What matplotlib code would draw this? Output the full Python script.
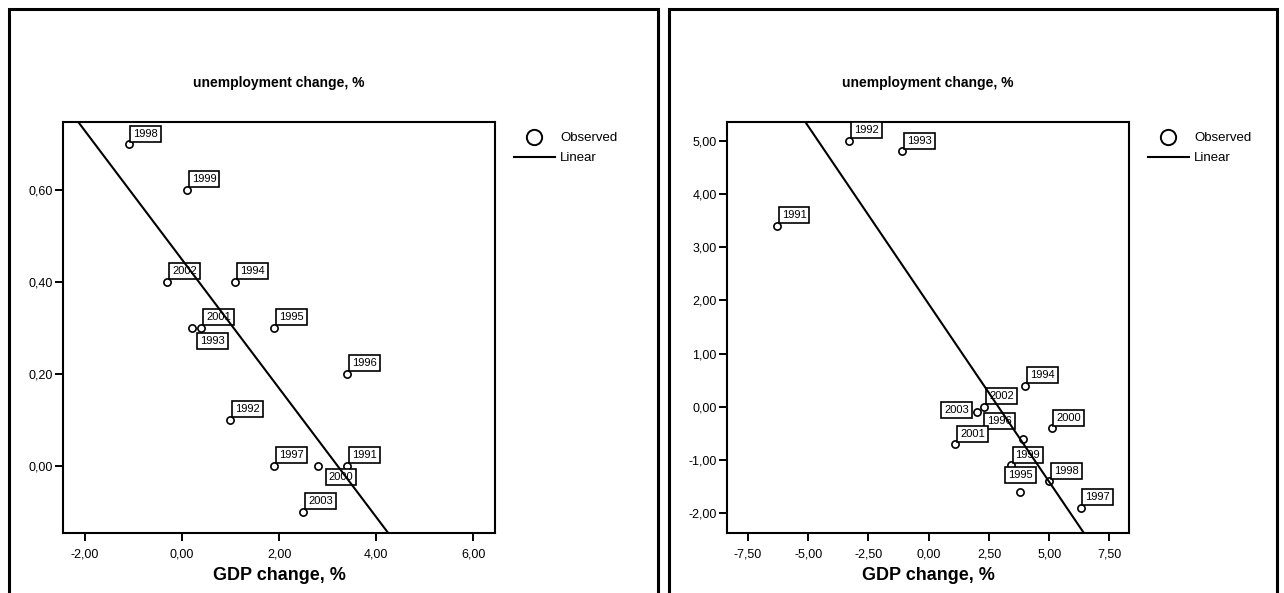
import numpy as np
import matplotlib
matplotlib.use("Agg")
import matplotlib.pyplot as plt
from matplotlib.lines import Line2D
from matplotlib.patches import Rectangle
from matplotlib.ticker import FuncFormatter

plt.rcParams["font.family"] = ["Liberation Sans", "DejaVu Sans"]

years = [1991, 1992, 1993, 1994, 1995, 1996, 1997, 1998, 1999, 2000, 2001, 2002, 2003]

# left chart
gdp_a = [3.4, 1.0, 0.2, 1.1, 1.9, 3.4, 1.9, -1.1, 0.1, 2.8, 0.4, -0.3, 2.5]
unemp_a = [0.0, 0.1, 0.3, 0.4, 0.3, 0.2, 0.0, 0.7, 0.6, 0.0, 0.3, 0.4, -0.1]
fit_a = (0.449, -0.140)  # intercept, slope of the "Linear" line as drawn

# right chart
gdp_b = [-6.3, -3.3, -1.1, 4.0, 3.8, 3.9, 6.3, 5.0, 3.4, 5.1, 1.1, 2.3, 2.0]
unemp_b = [3.4, 5.0, 4.8, 0.4, -1.6, -0.6, -1.9, -1.4, -1.1, -0.4, -0.7, 0.0, -0.1]
fit_b = (1.93, -0.668)

xticks_a = [-2, 0, 2, 4, 6]
yticks_a = [0.0, 0.2, 0.4, 0.6]
xticks_b = [-7.5, -5, -2.5, 0, 2.5, 5, 7.5]
yticks_b = [-2, -1, 0, 1, 2, 3, 4, 5]

title = "unemployment change, %"
xlabel = "GDP change, %"

# label boxes that are not at the default top-right spot
labels_a = {1993: (6.3, -5.6, "left", "top"), 2000: (7.8, -4.2, "left", "top")}
labels_b = {2003: (-5.6, 1.6, "right", "center"),
            1996: (-7.8, 9.2, "right", "bottom"),
            1995: (0, 8.3, "center", "bottom")}

W, H = 1284, 593
fig = plt.figure(figsize=(W / 100, H / 100), dpi=100)

comma = FuncFormatter(lambda v, p: f"{v:.2f}".replace(".", ","))


def panel(rect, gdp, unemp, fit, xlim, ylim, xticks, yticks, special):
    ax = fig.add_axes([rect[0] / W, 1 - rect[3] / H, (rect[2] - rect[0]) / W, (rect[3] - rect[1]) / H])
    ax.plot(gdp, unemp, "o", ms=5.2, mfc="white", mec="black", mew=1.2, zorder=3)
    for yr, x, y in zip(years, gdp, unemp):
        dx, dy, ha, va = special.get(yr, (3.5, 4, "left", "bottom"))
        ax.annotate(str(yr), (x, y), xytext=(dx, dy), textcoords="offset points",
                    ha=ha, va=va, fontsize=8, zorder=4,
                    bbox=dict(boxstyle="square,pad=0.27", fc="white", ec="black", lw=1.2))
    xs = np.array(xlim)
    ax.plot(xs, fit[0] + fit[1] * xs, color="black", lw=1.5, zorder=5)
    ax.set_xlim(xlim)
    ax.set_ylim(ylim)
    ax.set_xticks(xticks)
    ax.set_yticks(yticks)
    ax.xaxis.set_major_formatter(comma)
    ax.yaxis.set_major_formatter(comma)
    ax.tick_params(direction="out", length=6, width=1.4, labelsize=9)
    ax.tick_params(axis="x", pad=5)
    ax.tick_params(axis="y", pad=1.5)
    for s in ax.spines.values():
        s.set_linewidth(1.5)
    ax.set_xlabel(xlabel, fontsize=13, fontweight="bold", labelpad=5)
    fig.text((rect[0] + rect[2]) / 2 / W, 1 - 83 / H, title, ha="center", va="center",
             fontsize=10, fontweight="bold")
    handles = [Line2D([], [], marker="o", ls="none", ms=11, mfc="white", mec="black", mew=1.4),
               Line2D([], [], color="black", lw=1.5)]
    ax.legend(handles, ["Observed", "Linear"], loc="upper left",
              bbox_to_anchor=((rect[2] + 19) / W, 1 - 132 / H), bbox_transform=fig.transFigure,
              frameon=False, fontsize=9.5, handlelength=3.1, handletextpad=0.4,
              labelspacing=0.6, borderpad=0, borderaxespad=0)
    return ax


panel((63, 122, 495, 533), gdp_a, unemp_a, fit_a, (-2.45, 6.45), (-0.146, 0.748),
      xticks_a, yticks_a, labels_a)
panel((727, 122, 1129, 533), gdp_b, unemp_b, fit_b, (-8.37, 8.31), (-2.37, 5.35),
      xticks_b, yticks_b, labels_b)

# outer frames of the two panels
for x0, x1 in [(8.5, 658), (669, 1277)]:
    fig.add_artist(Rectangle((x0 / W, -0.1), (x1 - x0) / W, 1.1 - 8.5 / H,
                             transform=fig.transFigure, fill=False, ec="black", lw=2.2))

fig.savefig("out.png", dpi=100)
